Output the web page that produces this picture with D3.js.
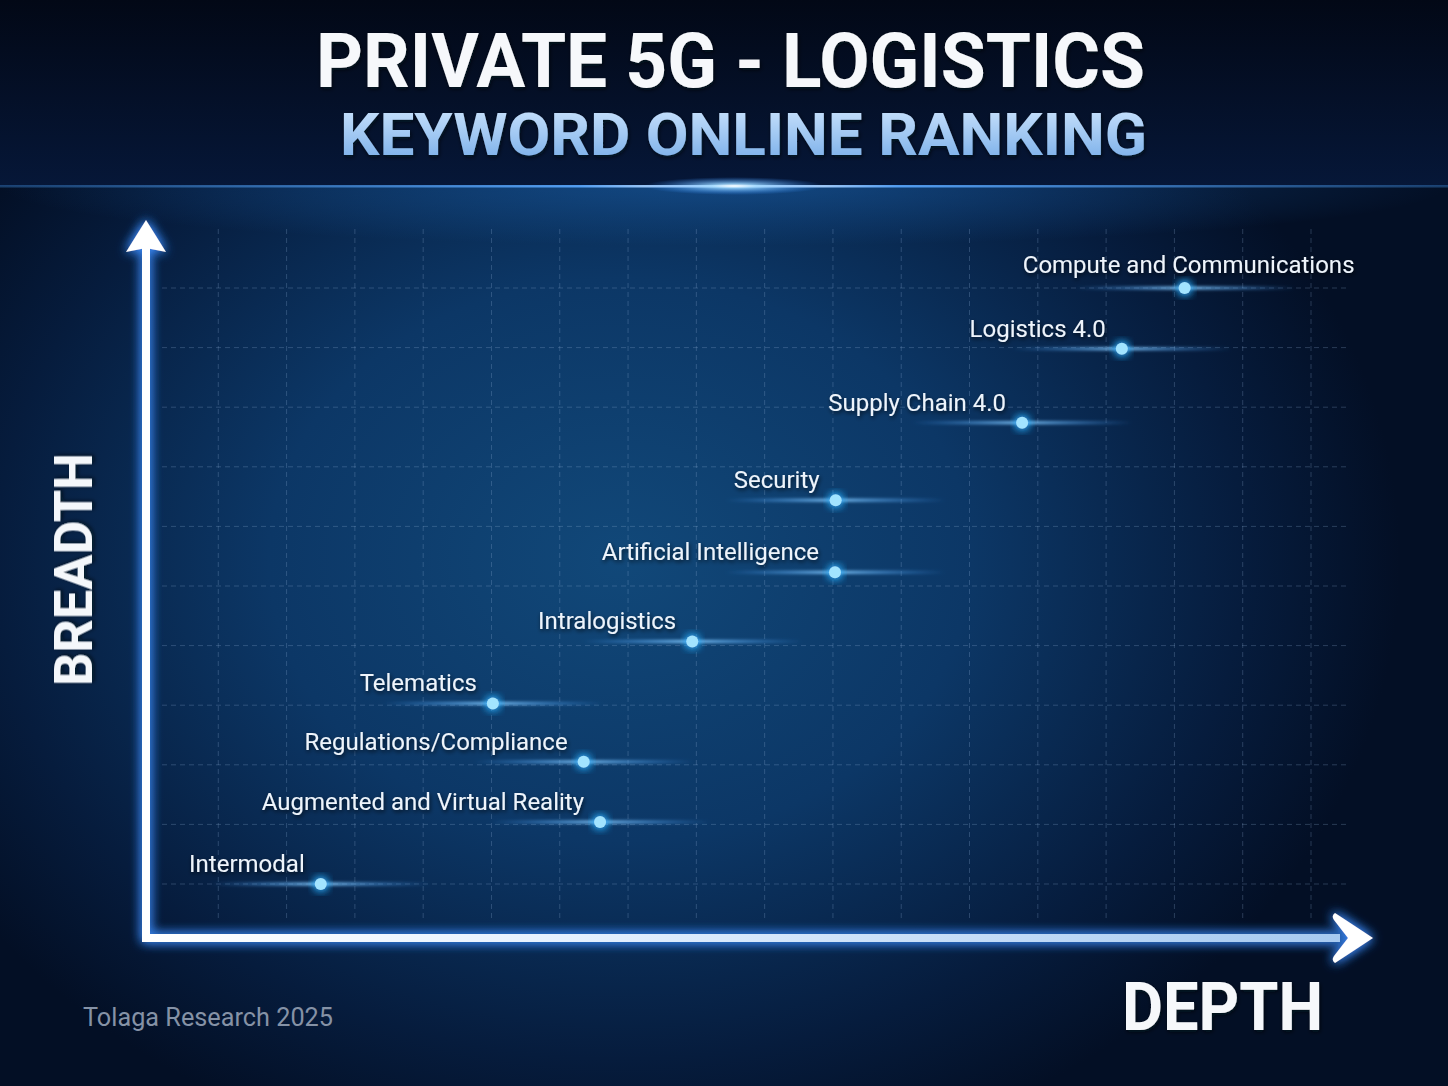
<!DOCTYPE html>
<html>
<head>
<meta charset="utf-8">
<script src="https://cdn.jsdelivr.net/npm/d3@7"></script>
<style>
  html, body { margin: 0; padding: 0; background: #030c20; }
  svg { display: block; }
</style>
</head>
<body>
<svg id="chart" width="1448" height="1086"></svg>
<script>
// keyword ranking: depth (x) vs breadth (y), in grid units
var keywords = [
    'Compute and Communications',
    'Logistics 4.0',
    'Supply Chain 4.0',
    'Security',
    'Artificial Intelligence',
    'Intralogistics',
    'Telematics',
    'Regulations/Compliance',
    'Augmented and Virtual Reality',
    'Intermodal'
];
var depth   = [15.15, 14.23, 12.77, 10.04, 10.03, 7.94, 5.02, 6.35, 6.59, 2.50];
var breadth = [10.0, 8.98, 7.74, 6.44, 5.23, 4.07, 3.03, 2.05, 1.04, 0];

var title = 'PRIVATE 5G - LOGISTICS';
var subtitle = 'KEYWORD ONLINE RANKING';
var xTitle = 'DEPTH';
var yTitle = 'BREADTH';
var source = 'Tolaga Research 2025';

var W = 1448, H = 1086;
var svg = d3.select('#chart');
var defs = svg.append('defs');

var x = d3.scaleLinear().domain([0, 17]).range([150, 1311]);
var y = d3.scaleLinear().domain([0, 10]).range([884, 288]);

// ---- gradients / filters
var bgGlow = defs.append('radialGradient').attr('id', 'bgGlow')
    .attr('gradientUnits', 'userSpaceOnUse')
    .attr('cx', 620).attr('cy', 560).attr('r', 780)
    .attr('gradientTransform', 'translate(620,560) scale(1,0.8) translate(-620,-560)');
bgGlow.append('stop').attr('offset', '0%').attr('stop-color', '#114879');
bgGlow.append('stop').attr('offset', '45%').attr('stop-color', '#0c3766');
bgGlow.append('stop').attr('offset', '80%').attr('stop-color', '#061c3d');
bgGlow.append('stop').attr('offset', '100%').attr('stop-color', '#030f25');

var head = defs.append('linearGradient').attr('id', 'head')
    .attr('x1', 0).attr('y1', 0).attr('x2', 0).attr('y2', 1);
head.append('stop').attr('offset', '0%').attr('stop-color', '#020816');
head.append('stop').attr('offset', '100%').attr('stop-color', '#061738');

var underLine = defs.append('radialGradient').attr('id', 'underLine')
    .attr('cx', 0.5).attr('cy', 0).attr('r', 0.5);
underLine.append('stop').attr('offset', '0%').attr('stop-color', '#1a5fa8').attr('stop-opacity', 0.55);
underLine.append('stop').attr('offset', '100%').attr('stop-color', '#1a5fa8').attr('stop-opacity', 0);

var sep = defs.append('linearGradient').attr('id', 'sep')
    .attr('gradientUnits', 'userSpaceOnUse')
    .attr('x1', 0).attr('y1', 0).attr('x2', W).attr('y2', 0);
sep.append('stop').attr('offset', '0%').attr('stop-color', '#2f6db0').attr('stop-opacity', 0.5);
sep.append('stop').attr('offset', '40%').attr('stop-color', '#5aa8ff').attr('stop-opacity', 0.9);
sep.append('stop').attr('offset', '50.7%').attr('stop-color', '#ffffff');
sep.append('stop').attr('offset', '62%').attr('stop-color', '#5aa8ff').attr('stop-opacity', 0.9);
sep.append('stop').attr('offset', '100%').attr('stop-color', '#2f6db0').attr('stop-opacity', 0.5);

var flare = defs.append('radialGradient').attr('id', 'flare');
flare.append('stop').attr('offset', '0%').attr('stop-color', '#ffffff');
flare.append('stop').attr('offset', '25%').attr('stop-color', '#9ad6ff').attr('stop-opacity', 0.85);
flare.append('stop').attr('offset', '100%').attr('stop-color', '#2f8cff').attr('stop-opacity', 0);

var sub = defs.append('linearGradient').attr('id', 'sub')
    .attr('x1', 0).attr('y1', 0).attr('x2', 0).attr('y2', 1);
sub.append('stop').attr('offset', '0%').attr('stop-color', '#d4e9ff');
sub.append('stop').attr('offset', '100%').attr('stop-color', '#6ea7e6');

var xAxisGrad = defs.append('linearGradient').attr('id', 'xAxisGrad')
    .attr('gradientUnits', 'userSpaceOnUse')
    .attr('x1', 146).attr('y1', 0).attr('x2', 1340).attr('y2', 0);
xAxisGrad.append('stop').attr('offset', '0%').attr('stop-color', '#ffffff');
xAxisGrad.append('stop').attr('offset', '35%').attr('stop-color', '#e6f1ff');
xAxisGrad.append('stop').attr('offset', '100%').attr('stop-color', '#a6c9f0');

var streak = defs.append('linearGradient').attr('id', 'streak')
    .attr('x1', 0).attr('y1', 0).attr('x2', 1).attr('y2', 0);
streak.append('stop').attr('offset', '0%').attr('stop-color', '#3f9dff').attr('stop-opacity', 0);
streak.append('stop').attr('offset', '50%').attr('stop-color', '#86ccff').attr('stop-opacity', 1);
streak.append('stop').attr('offset', '100%').attr('stop-color', '#3f9dff').attr('stop-opacity', 0);

function glowFilter(id, std, color, strength) {
    var f = defs.append('filter').attr('id', id)
        .attr('x', '-50%').attr('y', '-50%').attr('width', '200%').attr('height', '200%');
    f.append('feGaussianBlur').attr('in', 'SourceAlpha').attr('stdDeviation', std).attr('result', 'b');
    f.append('feFlood').attr('flood-color', color).attr('flood-opacity', strength);
    f.append('feComposite').attr('in2', 'b').attr('operator', 'in').attr('result', 'g');
    var m = f.append('feMerge');
    m.append('feMergeNode').attr('in', 'g');
    m.append('feMergeNode').attr('in', 'g');
    m.append('feMergeNode').attr('in', 'SourceGraphic');
}
glowFilter('axisGlow', 6, '#3d8eff', 0.85);
glowFilter('dotGlow', 5, '#2fb0ff', 1);

var shadow = defs.append('filter').attr('id', 'shadow')
    .attr('x', '-10%').attr('y', '-30%').attr('width', '120%').attr('height', '160%');
shadow.append('feDropShadow').attr('dx', 1).attr('dy', 2).attr('stdDeviation', 2)
    .attr('flood-color', '#000814').attr('flood-opacity', 0.7);

var blur2 = defs.append('filter').attr('id', 'blur2')
    .attr('x', '-10%').attr('y', '-300%').attr('width', '120%').attr('height', '700%');
blur2.append('feGaussianBlur').attr('stdDeviation', 1.5);

// ---- background
svg.append('rect').attr('width', W).attr('height', H).attr('fill', '#030f25');
svg.append('rect').attr('y', 186).attr('width', W).attr('height', H - 186).attr('fill', 'url(#bgGlow)');
svg.append('rect').attr('width', W).attr('height', 186).attr('fill', 'url(#head)');
svg.append('rect').attr('x', 0).attr('y', 186).attr('width', W).attr('height', 120)
    .attr('fill', 'url(#underLine)');

// separator with flare
svg.append('rect').attr('x', 0).attr('y', 185).attr('width', W).attr('height', 2.5)
    .attr('fill', 'url(#sep)');
svg.append('ellipse').attr('cx', 734).attr('cy', 186).attr('rx', 90).attr('ry', 9)
    .attr('fill', 'url(#flare)');

// ---- titles
svg.append('text')
    .attr('x', 316).attr('y', 87)
    .attr('textLength', 829).attr('lengthAdjust', 'spacingAndGlyphs')
    .style('font-family', 'Roboto, "DejaVu Sans", sans-serif')
    .style('font-weight', 700).style('font-size', '76px')
    .attr('fill', '#f6f8fb').attr('filter', 'url(#shadow)')
    .text(title);

svg.append('text')
    .attr('x', 340).attr('y', 155)
    .attr('textLength', 807).attr('lengthAdjust', 'spacingAndGlyphs')
    .style('font-family', 'Roboto, "DejaVu Sans", sans-serif')
    .style('font-weight', 700).style('font-size', '60px')
    .attr('fill', 'url(#sub)').attr('filter', 'url(#shadow)')
    .text(subtitle);

// ---- grid
var grid = svg.append('g')
    .attr('stroke', 'rgba(150,180,220,0.26)')
    .attr('stroke-width', 1)
    .attr('stroke-dasharray', '5,4');

grid.selectAll('line.v')
    .data(x.ticks(17).filter(function (d) { return d > 0; }))
    .join('line').attr('class', 'v')
    .attr('x1', function (d) { return x(d); }).attr('x2', function (d) { return x(d); })
    .attr('y1', 229).attr('y2', 920);

grid.selectAll('line.h')
    .data(y.ticks(10))
    .join('line').attr('class', 'h')
    .attr('x1', 162).attr('x2', 1350)
    .attr('y1', function (d) { return y(d); }).attr('y2', function (d) { return y(d); });

// ---- axes (arrows)
var axes = svg.append('g').attr('filter', 'url(#axisGlow)');
axes.append('line')
    .attr('x1', 146).attr('y1', 942).attr('x2', 146).attr('y2', 246)
    .attr('stroke', '#ffffff').attr('stroke-width', 8);
axes.append('path')
    .attr('d', 'M146,220 L166,252 L146,248 L126,252 Z')
    .attr('fill', '#ffffff');

axes.append('line')
    .attr('x1', 142).attr('y1', 938).attr('x2', 1340).attr('y2', 938)
    .attr('stroke', 'url(#xAxisGrad)').attr('stroke-width', 8);
axes.append('path')
    .attr('d', 'M1373,938 L1335,913 Q1331,916 1334,920 L1348,938 L1334,956 Q1331,960 1335,963 Z')
    .attr('fill', '#ffffff');

// ---- axis titles
svg.append('text')
    .attr('transform', 'translate(92,569.5) rotate(-90)')
    .attr('text-anchor', 'middle')
    .attr('textLength', 233).attr('lengthAdjust', 'spacingAndGlyphs')
    .style('font-family', 'Roboto, "DejaVu Sans", sans-serif')
    .style('font-weight', 700).style('font-size', '54px')
    .attr('fill', '#f4f7fb').attr('filter', 'url(#shadow)')
    .text(yTitle);

svg.append('text')
    .attr('x', 1122).attr('y', 1030)
    .attr('textLength', 201).attr('lengthAdjust', 'spacingAndGlyphs')
    .style('font-family', 'Roboto, "DejaVu Sans", sans-serif')
    .style('font-weight', 700).style('font-size', '66px')
    .attr('fill', '#f6f8fb').attr('filter', 'url(#shadow)')
    .text(xTitle);

svg.append('text')
    .attr('x', 83).attr('y', 1026)
    .attr('textLength', 250).attr('lengthAdjust', 'spacingAndGlyphs')
    .style('font-family', 'Roboto, "DejaVu Sans", sans-serif')
    .style('font-size', '25px')
    .attr('fill', '#8592a6')
    .text(source);

// ---- points
var pts = keywords.map(function (k, i) {
    return {name: k, depth: depth[i], breadth: breadth[i], top: i === 0};
});

var marks = svg.append('g').selectAll('g')
    .data(pts).join('g');

// glow streak through every point
marks.append('rect')
    .attr('x', function (d) { return x(d.depth) - 110; })
    .attr('y', function (d) { return y(d.breadth) - 1.5; })
    .attr('width', 220).attr('height', 3)
    .attr('fill', 'url(#streak)')
    .attr('filter', 'url(#blur2)');

marks.append('circle')
    .attr('cx', function (d) { return x(d.depth); })
    .attr('cy', function (d) { return y(d.breadth); })
    .attr('r', 6)
    .attr('fill', '#a2e4ff')
    .attr('filter', 'url(#dotGlow)');

marks.append('text')
    .attr('x', function (d) { return d.top ? x(d.depth) + 4 : x(d.depth) - 16; })
    .attr('y', function (d) { return y(d.breadth) - (d.top ? 15 : 12); })
    .attr('text-anchor', function (d) { return d.top ? 'middle' : 'end'; })
    .style('font-family', 'Roboto, "DejaVu Sans", sans-serif')
    .style('font-size', '24px')
    .attr('fill', '#eef4fb')
    .attr('filter', 'url(#shadow)')
    .text(function (d) { return d.name; });
</script>
</body>
</html>
